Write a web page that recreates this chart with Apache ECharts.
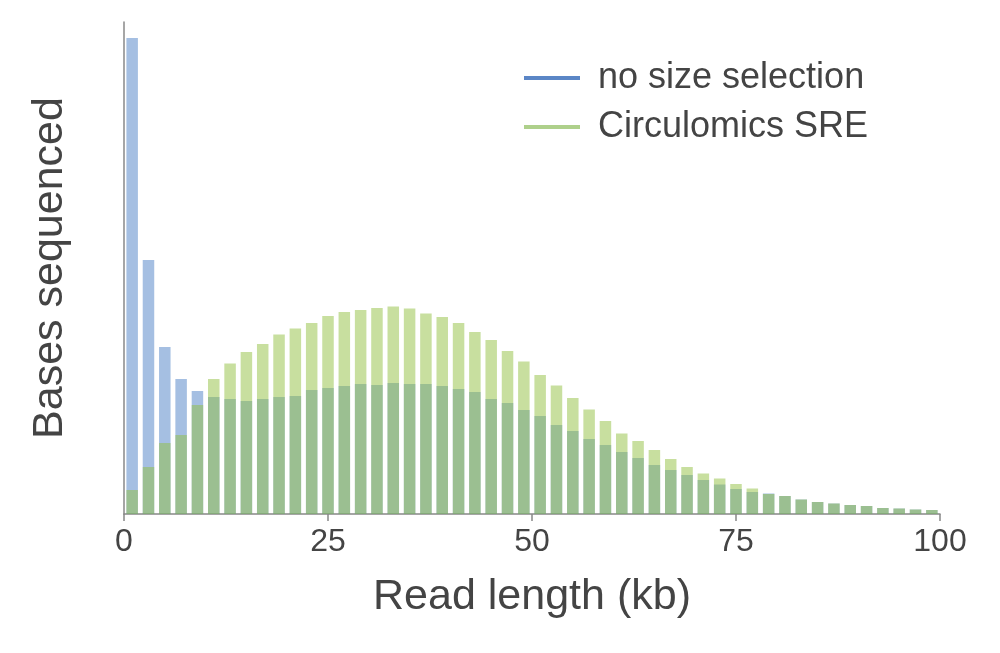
<!DOCTYPE html>
<html>
<head>
<meta charset="utf-8">
<script src="https://cdn.jsdelivr.net/npm/echarts@6/dist/echarts.min.js"></script>
<style>
  html, body { margin: 0; padding: 0; background: #fff; }
  #chart { width: 1000px; height: 653px; }
</style>
</head>
<body>
<div id="chart"></div>
<script>
// bin centres (kb), 2 kb bins from 0 to 100
var binCenters = [1, 3, 5, 7, 9, 11, 13, 15, 17, 19, 21, 23, 25, 27, 29, 31, 33, 35, 37, 39,
  41, 43, 45, 47, 49, 51, 53, 55, 57, 59, 61, 63, 65, 67, 69, 71, 73, 75, 77, 79,
  81, 83, 85, 87, 89, 91, 93, 95, 97, 99];

// bases sequenced (arbitrary units)
var noSizeSelection = [476, 254, 167, 135, 123, 117, 115, 113, 115, 117,
  118, 124, 126, 128, 130, 129, 131, 130, 130, 128,
  125, 122, 115, 111, 104, 98, 89, 83, 75, 69,
  62, 56, 49, 44, 39, 34, 29.5, 25, 22, 20.5,
  18, 14.5, 12, 10.5, 9, 8, 6, 5.5, 4.5, 4];

var circulomicsSRE = [24, 47, 71, 79, 109, 135, 150.5, 162, 170, 179.5,
  185.5, 191, 198, 202, 204, 206, 207.5, 205.5, 200.5, 197,
  191, 182, 174, 163, 152.5, 139, 128.5, 116, 104.5, 93,
  80.5, 73, 64, 55, 47, 40.5, 35.5, 30, 25.5, 20,
  18, 14.5, 12, 10.5, 9, 8, 6, 5.5, 4.5, 4];

var xTicks = [0, 25, 50, 75, 100];

function pairs(vals) {
  return vals.map(function (v, i) { return [binCenters[i], v]; });
}

var myChart = echarts.init(document.getElementById('chart'));
var font = 'Liberation Sans, Arial, sans-serif';

var option = {
  animation: false,
  backgroundColor: '#ffffff',
  grid: { left: 124, right: 60, top: 22, bottom: 139 },
  legend: {
    orient: 'vertical',
    left: 519,
    top: 55,
    itemWidth: 56,
    itemHeight: 4,
    itemGap: 13,
    icon: 'rect',
    textStyle: { fontFamily: font, fontSize: 36, color: '#444', padding: [0, 0, 0, 13] },
    data: [
      { name: 'no size selection', itemStyle: { color: '#5b86c6', opacity: 1 } },
      { name: 'Circulomics SRE', itemStyle: { color: '#aed08b', opacity: 1 } }
    ]
  },
  xAxis: {
    type: 'value',
    min: 0,
    max: 100,
    interval: 25,
    name: 'Read length (kb)',
    nameLocation: 'middle',
    nameGap: 62,
    nameTextStyle: { fontFamily: font, fontSize: 43, color: '#444' },
    axisLine: { show: true, lineStyle: { color: '#888', width: 1.5 } },
    axisTick: { show: true, length: 7, lineStyle: { color: '#888', width: 1.5 } },
    axisLabel: {
      fontFamily: font, fontSize: 32, color: '#444', margin: 12,
      customValues: xTicks
    },
    splitLine: { show: false }
  },
  yAxis: {
    type: 'value',
    min: 0,
    max: 492,
    name: 'Bases sequenced',
    nameLocation: 'middle',
    nameGap: 52,
    nameRotate: 90,
    nameTextStyle: { fontFamily: font, fontSize: 43, color: '#444' },
    axisLine: { show: true, lineStyle: { color: '#888', width: 1.5 } },
    axisTick: { show: false },
    axisLabel: { show: false },
    splitLine: { show: false }
  },
  series: [
    {
      name: 'no size selection',
      type: 'bar',
      barWidth: 11.5,
      barGap: '-100%',
      itemStyle: { color: '#4b7fc5', opacity: 0.5 },
      data: pairs(noSizeSelection)
    },
    {
      name: 'Circulomics SRE',
      type: 'bar',
      barWidth: 11.5,
      barGap: '-100%',
      itemStyle: { color: '#91bf3f', opacity: 0.5 },
      data: pairs(circulomicsSRE)
    }
  ]
};
myChart.setOption(option);
</script>
</body>
</html>
